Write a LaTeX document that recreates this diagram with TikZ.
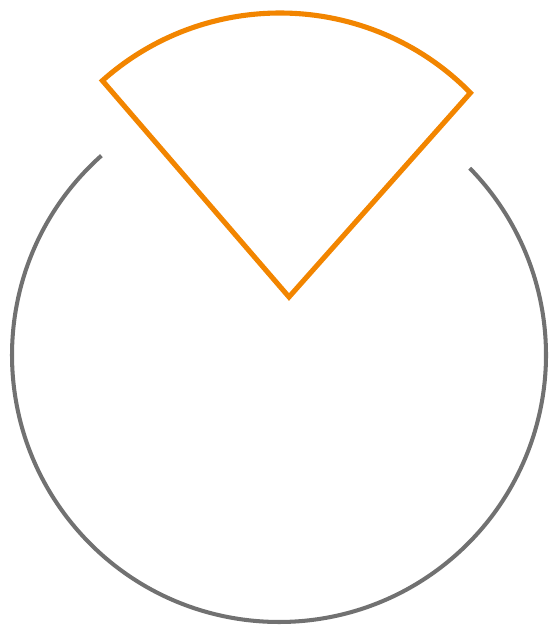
\documentclass[tikz,border=0pt]{standalone}
\usepackage{tikz}
\usetikzlibrary{calc}
\usepackage{xcolor}
\definecolor{Ring}{HTML}{717171}
\definecolor{Slice}{HTML}{F28500}
\newcommand{\Rad}{2.67}

\begin{document}
\begin{tikzpicture}[ring/.style={Ring,line width=1.15pt},slice/.style={Slice,line width=1.45pt,line join=miter}]
\useasboundingbox (0,0) rectangle (5.49,6.27);
\coordinate (hub) at (2.79,2.72);
\coordinate (lift) at (2.80,3.47);
\coordinate (tip) at (2.89,3.30);
% circle with the gap at the top
\draw[ring] ($(hub)+(131.7:\Rad)$) arc[start angle=131.7,end angle=404.4,radius=\Rad];
% the slice, moved out of the gap
\draw[slice] (tip) -- ($(lift)+(131.7:\Rad)$) arc[start angle=131.7,end angle=44.5,radius=\Rad] -- cycle;
\end{tikzpicture}
\end{document}
